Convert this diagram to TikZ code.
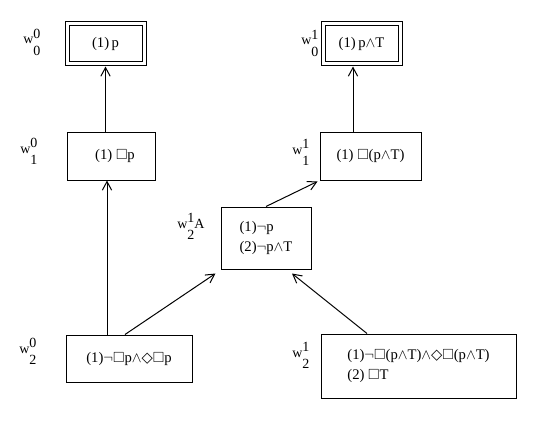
\documentclass[tikz,border=0pt]{standalone}
\usepackage{amssymb}
\usepackage{fontspec}
\setmainfont{Liberation Serif}
\newfontfamily\symf{DejaVu Sans}[Scale=1.0]
\usetikzlibrary{arrows.meta,calc}
\newcommand\wl[2]{w\rlap{\raisebox{3.8pt}{#1}}\raisebox{-8.8pt}{#2}}
\newcommand\dia{{\symf ◇}}
\newcommand\bx{$\square$}
\newcommand\aand{$\wedge$}
\newcommand\nng{$\neg$}
\tikzset{
  box/.style={draw, rectangle, inner sep=0pt, line width=0.75pt, font=\fontsize{11}{14.5}\selectfont},
  dbox/.style={box, double, double distance=2.25pt, outer sep=1.9pt},
  lab/.style={anchor=base west, inner sep=0pt, font=\fontsize{10.5}{12}\selectfont},
  arr/.style={line width=0.75pt, -{Straight Barb[length=6.5pt,width=7pt,line width=0.75pt]}}
}
\begin{document}
\begin{tikzpicture}[x=0.75pt,y=-0.75pt]
\useasboundingbox (0,0) rectangle (542,435);
% boxes
\node[dbox, minimum width=77*0.75pt, minimum height=40*0.75pt] (a00) at (105.5,44) {(1)\,p};
\node[dbox, minimum width=77*0.75pt, minimum height=40*0.75pt] (a01) at (361.5,44) {(1)\,p\aand T};
\node[box, minimum width=88*0.75pt, minimum height=48*0.75pt] (a10) at (111,156) {\hspace{6pt}(1) \bx p};
\node[box, minimum width=101*0.75pt, minimum height=48*0.75pt] (a11) at (370.5,156) {(1) \bx(p\aand T)};
\node[box, minimum width=90*0.75pt, minimum height=62*0.75pt, align=left] (a2A) at (266,238) {(1)\nng p\\(2)\nng p\aand T\hspace{4pt}};
\node[box, minimum width=126*0.75pt, minimum height=47*0.75pt] (a20) at (129,358.5) {(1)\nng\bx p\aand\dia\bx p};
\node[box, minimum width=195*0.75pt, minimum height=64*0.75pt, align=left] (a21) at (418.5,366) {(1)\nng\bx(p\aand T)\aand\dia\bx(p\aand T)\\(2) \bx T};
% labels
\node[lab] (l00) at (23,43.5) {\wl{0}{0}};
\node[lab] (l01) at (301,45) {\wl{1}{0}};
\node[lab] (l10) at (20,153) {\wl{0}{1}};
\node[lab] (l11) at (292,154) {\wl{1}{1}};
\node[lab] (l2A) at (177,228) {\wl{1}{2}A};
\node[lab] (l20) at (19,353) {\wl{0}{2}};
\node[lab] (l21) at (292,357) {\wl{1}{2}};
% arrows
\draw[arr] (a10.north -| a00.south) -- (a00.south);
\draw[arr] ($(a11.north)+(-17.5,0)$) -- ($(a01.south)+(-8.5,0)$);
\draw[arr] ($(a20.north)+(-22,0)$) -- ($(a10.south)+(-4,0)$);
\draw[arr] ($(a20.north)+(-4,0)$) -- ($(a2A.south west)+(-5,4)$);
\draw[arr] (a2A.north) -- ($(a11.south west)+(-2,1)$);
\draw[arr] ($(a21.north)+(-51.5,0)$) -- ($(a2A.south)+(26,4)$);
\end{tikzpicture}
\end{document}
